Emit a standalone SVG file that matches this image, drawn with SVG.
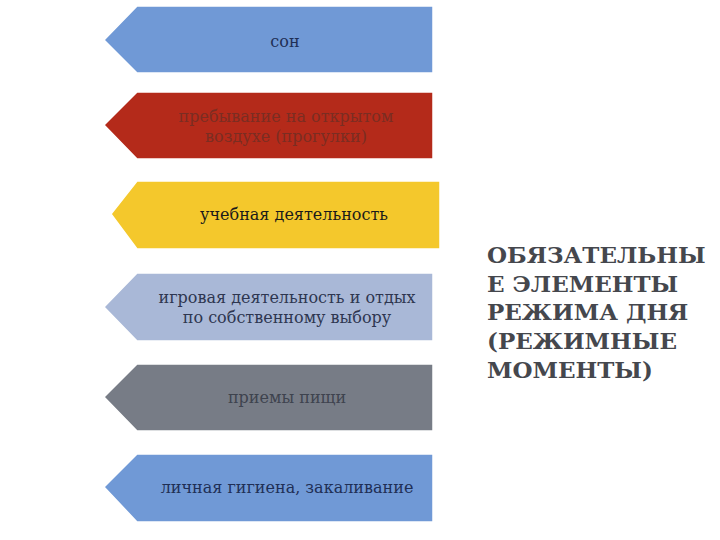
<svg xmlns="http://www.w3.org/2000/svg" width="720" height="540" viewBox="0 0 720 540">
<style>
.lbl{font-family:'DejaVu Serif',serif;font-size:16px;text-anchor:middle}
.ttl{font-family:'DejaVu Serif',serif;font-size:23px;font-weight:bold;fill:#45474d}
.sh{stroke:#ffffff;stroke-width:1.5}
</style>
<rect width="720" height="540" fill="#ffffff"/>
<g id="n1"><polygon class="sh" points="137,6 433,6 433,73 137,73 104,40" fill="#7099d6"/><text class="lbl" x="285" y="47" fill="#1f2f55">сон</text></g>
<g id="n2"><polygon class="sh" points="137,92 433,92 433,159 137,159 104,125" fill="#b42a1a"/><text class="lbl" x="286" y="122" fill="#7a2d22">пребывание на открытом</text><text class="lbl" x="286" y="142" fill="#7a2d22">воздухе (прогулки)</text></g>
<g id="n3"><polygon class="sh" points="137,181 440,181 440,249 137,249 111,214" fill="#f4c82c"/><text class="lbl" x="294" y="220" fill="#1a1a1a">учебная деятельность</text></g>
<g id="n4"><polygon class="sh" points="137,273 433,273 433,341 137,341 104,307" fill="#a9b8d7"/><text class="lbl" x="287" y="303" fill="#2e3650">игровая деятельность и отдых</text><text class="lbl" x="287" y="323" fill="#2e3650">по собственному выбору</text></g>
<g id="n5"><polygon class="sh" points="137,364 433,364 433,431 137,431 104,397" fill="#777c86"/><text class="lbl" x="287" y="403" fill="#3e434e">приемы пищи</text></g>
<g id="n6"><polygon class="sh" points="137,454 433,454 433,522 137,522 104,487" fill="#7099d6"/><text class="lbl" x="287" y="493" fill="#1f2f55">личная гигиена, закаливание</text></g>
<g id="connectors"></g>
<g id="title">
<text class="ttl" x="487" y="263">ОБЯЗАТЕЛЬНЫ</text>
<text class="ttl" x="487" y="292">Е ЭЛЕМЕНТЫ</text>
<text class="ttl" x="487" y="320">РЕЖИМА ДНЯ</text>
<text class="ttl" x="487" y="349">(РЕЖИМНЫЕ</text>
<text class="ttl" x="487" y="378">МОМЕНТЫ)</text>
</g>
</svg>
